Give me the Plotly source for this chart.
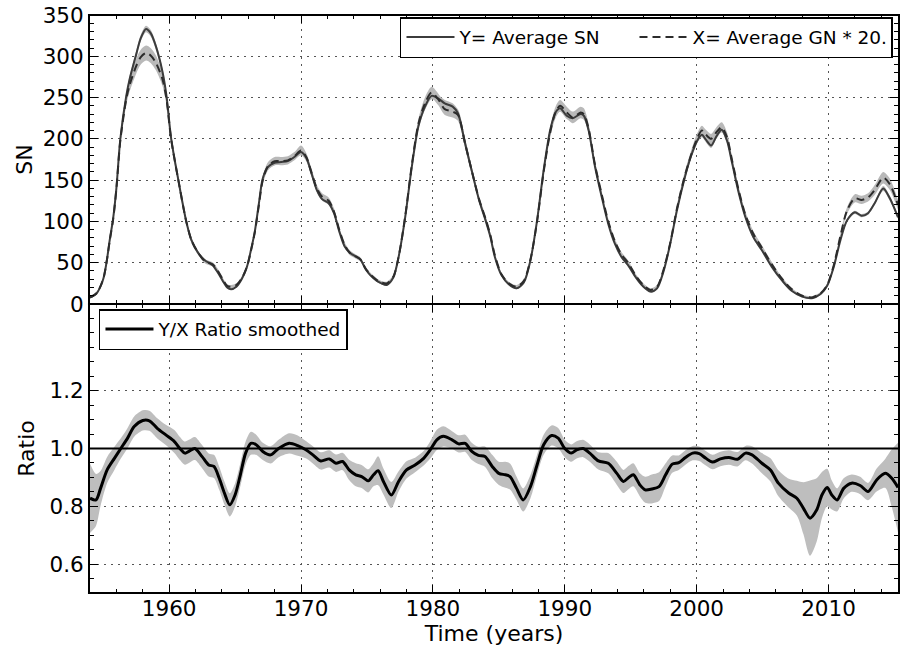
import plotly.graph_objects as go
from plotly.subplots import make_subplots

# ---------------- data ----------------
t_top = [1954.0, 1954.5, 1955.0, 1955.25, 1955.5, 1955.75, 1956.0, 1956.3, 1956.75, 1957.0,
         1957.5, 1957.85, 1958.25, 1958.6, 1959.0, 1959.5, 1959.8, 1960.15, 1960.7, 1961.3,
         1961.7, 1962.2, 1962.7, 1963.3, 1963.7, 1964.1, 1964.4, 1964.7, 1965.1, 1965.5,
         1965.9, 1966.2, 1966.5, 1966.8, 1967.1, 1967.5, 1968.0, 1968.5, 1969.0, 1969.5,
         1970.0, 1970.4, 1970.8, 1971.2, 1971.6, 1972.1, 1972.5, 1972.9, 1973.3, 1973.7,
         1974.1, 1974.5, 1974.9, 1975.25, 1975.75, 1976.1, 1976.5, 1977.0, 1977.4, 1977.9,
         1978.4, 1978.9, 1979.4, 1979.9, 1980.4, 1980.9, 1981.5, 1981.9, 1982.45, 1983.0,
         1983.5, 1984.0, 1984.35, 1984.7, 1985.2, 1985.75, 1986.35, 1986.9, 1987.4, 1987.9,
         1988.4, 1988.9, 1989.3, 1989.65, 1990.15, 1990.6, 1991.2, 1991.45, 1991.8, 1992.3,
         1992.8, 1993.3, 1993.8, 1994.3, 1994.8, 1995.4, 1995.9, 1996.5, 1997.0, 1997.5,
         1998.0, 1998.5, 1999.05, 1999.55, 2000.05, 2000.4, 2000.7, 2001.1, 2001.5, 2001.9,
         2002.3, 2002.7, 2003.2, 2003.7, 2004.3, 2004.95, 2005.7, 2006.5, 2007.2, 2008.0,
         2008.75, 2009.4, 2009.9, 2010.4, 2010.9, 2011.4, 2012.0, 2012.5, 2013.0, 2013.5,
         2014.15, 2014.65, 2015.27]

sn_avg = [8, 13, 30, 50, 78, 103, 140, 200, 252, 272,
          302, 322, 333, 328, 312, 281, 252, 201, 150, 100,
          77, 62, 53, 47, 38, 27, 20, 18, 21, 30,
          45, 65, 88, 121, 152, 166, 171, 172, 173, 178,
          184, 177, 158, 138, 127, 122, 110, 88, 70, 62,
          58, 54, 42, 35, 28, 25, 23, 32, 57, 105,
          166, 215, 239, 252, 249, 243, 239, 231, 194, 158,
          126, 101, 82, 57, 35, 24, 19, 26, 53, 101,
          162, 211, 232, 237, 228, 225, 230, 228, 211, 166,
          130, 97, 73, 57, 47, 32, 22, 15, 19, 40,
          73, 113, 150, 178, 198, 205, 199, 192, 203, 211,
          198, 170, 134, 105, 81, 65, 45, 28, 16, 9,
          7, 12, 22, 45, 77, 101, 111, 107, 110, 122,
          140, 128, 105]

gn_x20 = [8, 13, 30, 50, 77, 102, 139, 198, 248, 265,
          288, 299, 304, 301, 292, 272, 248, 200, 150, 100,
          77, 62, 52, 48, 40, 29, 22, 21, 23, 31,
          45, 64, 87, 119, 150, 167, 173, 173, 174, 179,
          186, 178, 159, 140, 130, 125, 112, 90, 72, 62,
          58, 54, 43, 36, 29, 26, 25, 33, 57, 106,
          168, 218, 243, 256, 248, 236, 233, 229, 194, 158,
          127, 103, 84, 59, 36, 25, 21, 28, 54, 100,
          160, 208, 232, 240, 232, 226, 232, 230, 213, 168,
          133, 100, 76, 60, 50, 34, 24, 17, 21, 42,
          74, 115, 152, 179, 201, 210, 205, 200, 208, 214,
          202, 173, 137, 108, 85, 68, 48, 30, 18, 10,
          8, 13, 23, 47, 82, 113, 128, 126, 129, 138,
          153, 145, 120]

sn_err = [1, 1, 1, 1.5, 2, 2, 3, 3, 4, 4,
          4, 4, 4, 4, 4, 4, 4, 3, 3, 2,
          2, 1.5, 1.5, 1.5, 1.5, 1, 1, 1, 1, 1,
          1.5, 1.5, 2, 2, 3, 3, 3, 3, 3, 3,
          3, 3, 3, 2, 2, 2, 2, 2, 1.5, 1.5,
          1.5, 1.5, 1, 1, 1, 1, 1, 1, 1.5, 2,
          3, 3, 4, 4, 4, 4, 4, 4, 3, 3,
          2, 2, 2, 1.5, 1, 1, 1, 1, 1.5, 2,
          3, 3, 4, 4, 4, 4, 4, 4, 3, 3,
          2, 2, 1.5, 1.5, 1.5, 1, 1, 1, 1, 1,
          1.5, 2, 3, 3, 3, 3, 3, 3, 3, 3,
          3, 3, 2, 2, 2, 1.5, 1, 1, 1, 1,
          1, 1, 1, 1, 1.5, 2, 2, 2, 2, 2,
          3, 3, 2]

gn_err = [1.5, 1.5, 2, 2.5, 3, 3.5, 4.5, 6, 7, 8,
          9, 9, 9, 9, 9, 8, 7, 6, 4.5, 3.5,
          3, 2.5, 2.5, 2.5, 2.5, 2, 2, 2, 2, 2,
          2, 3, 3, 4, 5, 5, 5, 5, 5, 5,
          6, 5, 5, 4, 4, 4, 4, 3, 3, 3,
          2.5, 2.5, 2, 2, 2, 2, 2, 2, 2.5, 4,
          5, 6, 7, 7, 7, 7, 7, 7, 6, 5,
          4, 3.5, 3, 2.5, 2, 2, 2, 2, 2.5, 3.5,
          5, 6, 7, 7, 7, 7, 7, 7, 6, 5,
          4, 3.5, 3, 3, 3, 2, 2, 2, 2, 2,
          3, 4, 5, 5, 6, 6, 6, 6, 6, 6,
          6, 5, 4, 4, 3.5, 3, 3, 2, 1.5, 1.5,
          1.5, 1.5, 2, 2.5, 3, 4, 5, 5, 5, 6,
          7, 7, 6]

t_ratio = [1954.0, 1954.45, 1954.8, 1955.3, 1955.85, 1956.35, 1956.85, 1957.35, 1958.0, 1958.5,
           1959.1, 1959.75, 1960.4, 1960.8, 1961.2, 1961.5, 1961.95, 1962.5, 1963.0, 1963.4,
           1963.8, 1964.2, 1964.6, 1965.0, 1965.4, 1965.8, 1966.2, 1966.6, 1967.1, 1967.7,
           1968.3, 1969.1, 1969.75, 1970.4, 1970.9, 1971.5, 1972.15, 1972.65, 1973.15, 1973.65,
           1974.15, 1974.6, 1975.1, 1975.5, 1975.85, 1976.25, 1976.85, 1977.4, 1978.0, 1978.65,
           1979.3, 1979.8, 1980.3, 1980.8, 1981.45, 1981.95, 1982.45, 1982.95, 1983.45, 1983.95,
           1984.5, 1985.0, 1985.5, 1985.85, 1986.35, 1986.85, 1987.4, 1987.9, 1988.4, 1989.0,
           1989.5, 1990.0, 1990.5, 1990.9, 1991.4, 1991.9, 1992.55, 1993.3, 1993.95, 1994.45,
           1994.85, 1995.2, 1995.7, 1996.1, 1996.6, 1997.15, 1997.65, 1998.15, 1998.65, 1999.15,
           1999.7, 2000.2, 2000.7, 2001.2, 2001.8, 2002.45, 2003.1, 2003.7, 2004.2, 2004.95,
           2005.6, 2006.2, 2007.0, 2007.6, 2008.1, 2008.6, 2009.1, 2009.5, 2009.9, 2010.25,
           2010.65, 2011.15, 2011.75, 2012.4, 2013.0, 2013.65, 2014.3, 2014.8, 2015.27]

ratio_smooth = [0.828, 0.822, 0.862, 0.926, 0.966, 1.001, 1.036, 1.076, 1.097, 1.096,
                1.070, 1.047, 1.024, 1.001, 0.984, 0.990, 1.000, 0.972, 0.943, 0.938,
                0.897, 0.845, 0.805, 0.839, 0.909, 0.984, 1.018, 1.013, 0.990, 0.978,
                1.000, 1.018, 1.010, 0.995, 0.978, 0.957, 0.964, 0.949, 0.955, 0.926,
                0.909, 0.903, 0.888, 0.909, 0.923, 0.886, 0.839, 0.886, 0.926, 0.943,
                0.966, 0.995, 1.030, 1.042, 1.030, 1.016, 1.018, 0.990, 0.976, 0.972,
                0.938, 0.914, 0.909, 0.903, 0.862, 0.822, 0.868, 0.943, 1.013, 1.045,
                1.036, 1.000, 0.984, 0.995, 1.000, 0.984, 0.957, 0.949, 0.914, 0.886,
                0.900, 0.909, 0.874, 0.857, 0.860, 0.868, 0.909, 0.946, 0.951, 0.969,
                0.984, 0.982, 0.966, 0.953, 0.964, 0.969, 0.963, 0.984, 0.978, 0.949,
                0.926, 0.880, 0.845, 0.828, 0.793, 0.759, 0.787, 0.839, 0.865, 0.839,
                0.822, 0.862, 0.880, 0.872, 0.851, 0.891, 0.914, 0.897, 0.865]

ratio_err = [0.12, 0.09, 0.06, 0.045, 0.04, 0.035, 0.035, 0.035, 0.035, 0.035,
             0.035, 0.035, 0.04, 0.04, 0.04, 0.04, 0.04, 0.04, 0.04, 0.04,
             0.04, 0.04, 0.04, 0.04, 0.04, 0.04, 0.04, 0.035, 0.03, 0.03,
             0.03, 0.035, 0.035, 0.03, 0.03, 0.03, 0.03, 0.03, 0.03, 0.035,
             0.04, 0.04, 0.04, 0.04, 0.05, 0.045, 0.045, 0.035, 0.03, 0.025,
             0.025, 0.03, 0.035, 0.035, 0.03, 0.03, 0.03, 0.03, 0.03, 0.035,
             0.04, 0.04, 0.045, 0.045, 0.04, 0.04, 0.04, 0.035, 0.035, 0.035,
             0.035, 0.03, 0.03, 0.03, 0.03, 0.03, 0.03, 0.035, 0.04, 0.04,
             0.04, 0.04, 0.04, 0.045, 0.05, 0.05, 0.04, 0.03, 0.025, 0.025,
             0.025, 0.025, 0.025, 0.025, 0.025, 0.025, 0.025, 0.025, 0.03, 0.035,
             0.04, 0.045, 0.05, 0.06, 0.09, 0.13, 0.11, 0.08, 0.065, 0.05,
             0.04, 0.035, 0.03, 0.03, 0.03, 0.04, 0.05, 0.10, 0.155]

x_range = [1954.0, 2015.27]
sn_ticks = [0, 50, 100, 150, 200, 250, 300, 350]
ratio_ticks = [0.6, 0.8, 1.0, 1.2]
ratio_ticktext = ["0.6", "0.8", "1.0", "1.2"]
year_ticks = [1960, 1970, 1980, 1990, 2000, 2010]

# ---------------- figure ----------------
FONT = "DejaVu Sans"
TICK_FONT = dict(family=FONT, size=21.5, color="black")
TITLE_FONT = dict(family=FONT, size=22, color="black")
LEG_FONT = dict(family=FONT, size=18.5, color="black")

fig = make_subplots(rows=2, cols=1, shared_xaxes=True, vertical_spacing=0)


def band(x, y, e, color, row):
    lo = [a - b for a, b in zip(y, e)]
    hi = [a + b for a, b in zip(y, e)]
    fig.add_trace(go.Scatter(x=x, y=lo, mode="lines", line=dict(width=0, shape="spline", smoothing=0.8),
                             showlegend=False, hoverinfo="skip"), row=row, col=1)
    fig.add_trace(go.Scatter(x=x, y=hi, mode="lines", line=dict(width=0, shape="spline", smoothing=0.8),
                             fill="tonexty", fillcolor=color, showlegend=False, hoverinfo="skip"),
                  row=row, col=1)


band(t_top, gn_x20, gn_err, "rgb(185,185,185)", 1)
band(t_top, sn_avg, sn_err, "rgb(185,185,185)", 1)

fig.add_trace(go.Scatter(x=t_top, y=sn_avg, mode="lines", name="Y= Average SN",
                         line=dict(color="#3c3c3c", width=2, shape="spline", smoothing=0.8),
                         legend="legend", legendwidth=170), row=1, col=1)
fig.add_trace(go.Scatter(x=t_top, y=gn_x20, mode="lines", name="X= Average GN * 20.",
                         line=dict(color="#2c2c2c", width=2, dash="8px,5px", shape="spline", smoothing=0.8),
                         legend="legend", legendwidth=194), row=1, col=1)

band(t_ratio, ratio_smooth, ratio_err, "rgb(190,190,190)", 2)
fig.add_trace(go.Scatter(x=t_ratio, y=ratio_smooth, mode="lines", name="Y/X Ratio smoothed",
                         line=dict(color="black", width=3, shape="spline", smoothing=0.8),
                         legend="legend2"), row=2, col=1)

fig.add_hline(y=1.0, line=dict(color="black", width=1.8), row=2, col=1)

common_x = dict(range=x_range, tickmode="array", tickvals=year_ticks,
                ticks="inside", ticklen=8, tickwidth=1.2, tickcolor="black",
                minor=dict(tickmode="linear", tick0=1954, dtick=2, ticklen=4, tickwidth=1.2,
                           tickcolor="black", ticks="inside", showgrid=False),
                showline=False, mirror="ticks",
                showgrid=True, gridcolor="#555555", gridwidth=1, griddash="2px,5px",
                zeroline=False, tickfont=TICK_FONT, automargin=False)

fig.update_xaxes(**common_x)
fig.update_xaxes(showticklabels=False, row=1, col=1)
fig.update_xaxes(showticklabels=True, row=2, col=1,
                 title=dict(text="Time (years)", font=TITLE_FONT, standoff=6))

common_y = dict(ticks="inside", ticklen=8, tickwidth=1.2, tickcolor="black",
                showline=True, linecolor="black", linewidth=2, mirror="ticks",
                showgrid=True, gridcolor="#555555", gridwidth=1, griddash="2px,5px",
                zeroline=False, tickfont=TICK_FONT, automargin=False,
                ticklabeloverflow="allow")

fig.update_yaxes(**common_y)
fig.update_yaxes(row=1, col=1, range=[0, 350], tickmode="array", tickvals=sn_ticks,
                 minor=dict(tickmode="linear", tick0=0, dtick=10, ticklen=4, tickwidth=1.2,
                            tickcolor="black", ticks="inside", showgrid=False),
                 title=dict(text="SN", font=TITLE_FONT, standoff=4))
fig.update_yaxes(row=2, col=1, range=[0.5, 1.5], tickmode="array", tickvals=ratio_ticks,
                 ticktext=ratio_ticktext,
                 minor=dict(tickmode="linear", tick0=0.5, dtick=0.05, ticklen=4, tickwidth=1.2,
                            tickcolor="black", ticks="inside", showgrid=False),
                 title=dict(text="Ratio", font=TITLE_FONT, standoff=9))

# horizontal frame lines (top, shared middle, bottom) as single 2px lines
for yy in (0.0, 0.5, 1.0):
    fig.add_shape(type="line", xref="paper", yref="paper", x0=-0.0025, x1=1.0025, y0=yy, y1=yy,
                  line=dict(color="black", width=2), layer="above")

fig.update_layout(
    width=900, height=655,
    margin=dict(l=90, r=2, t=15, b=62),
    paper_bgcolor="white", plot_bgcolor="white",
    font=dict(family=FONT, color="black"),
    legend=dict(x=0.9938, xanchor="right", y=0.9965, yanchor="top", orientation="h",
                traceorder="normal",
                bordercolor="black", borderwidth=1.5, bgcolor="white",
                font=LEG_FONT, itemwidth=48),
    legend2=dict(x=0.0111, xanchor="left", y=0.4913, yanchor="top",
                 traceorder="normal",
                 bordercolor="black", borderwidth=1.5, bgcolor="white",
                 font=LEG_FONT, itemwidth=48),
)
fig.update_yaxes(domain=[0.5, 1.0], row=1, col=1)
fig.update_yaxes(domain=[0.0, 0.5], row=2, col=1)

# remove the browser's default 8px body margin so the 900x655 figure fills the window
fig.write_html("out.html", config={"displayModeBar": False},
               post_script="document.body.style.margin='0';")
